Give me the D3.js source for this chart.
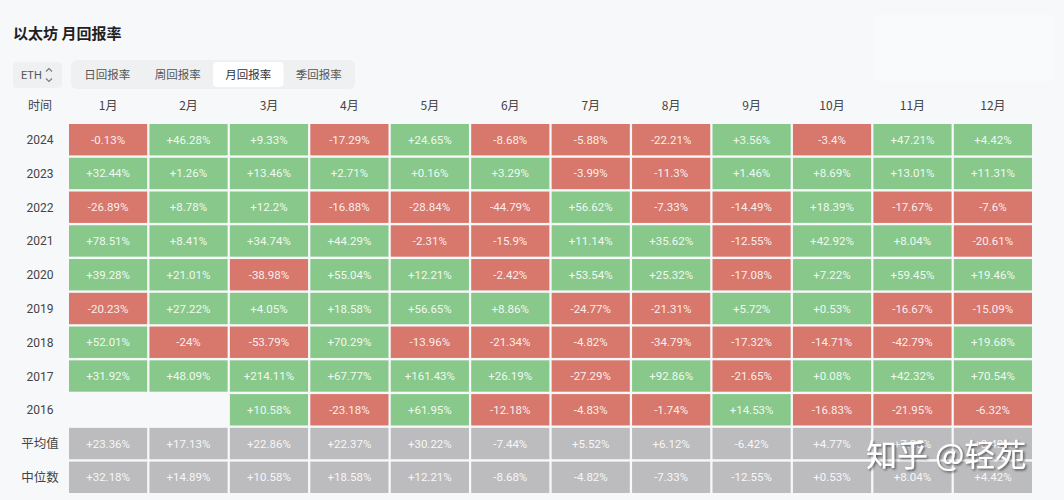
<!DOCTYPE html>
<html><head><meta charset="utf-8">
<script src="https://cdn.jsdelivr.net/npm/d3@7/dist/d3.min.js"></script>
<style>
html,body{margin:0;padding:0;background:#f7f8fa;}
svg{display:block;}
</style></head>
<body>
<svg id="chart" width="1064" height="500"></svg>
<script>
const title = "以太坊 月回报率";
const tabs = ["日回报率", "周回报率", "月回报率", "季回报率"];
const selectedTab = "月回报率";
const asset = "ETH";
const cornerLabel = "时间";
const months = ["1月","2月","3月","4月","5月","6月","7月","8月","9月","10月","11月","12月"];
const years = ["2024","2023","2022","2021","2020","2019","2018","2017","2016"];
const statRows = ["平均值","中位数"];
const r2024 = [-0.13, 46.28, 9.33, -17.29, 24.65, -8.68, -5.88, -22.21, 3.56, -3.4, 47.21, 4.42];
const r2023 = [32.44, 1.26, 13.46, 2.71, 0.16, 3.29, -3.99, -11.3, 1.46, 8.69, 13.01, 11.31];
const r2022 = [-26.89, 8.78, 12.2, -16.88, -28.84, -44.79, 56.62, -7.33, -14.49, 18.39, -17.67, -7.6];
const r2021 = [78.51, 8.41, 34.74, 44.29, -2.31, -15.9, 11.14, 35.62, -12.55, 42.92, 8.04, -20.61];
const r2020 = [39.28, 21.01, -38.98, 55.04, 12.21, -2.42, 53.54, 25.32, -17.08, 7.22, 59.45, 19.46];
const r2019 = [-20.23, 27.22, 4.05, 18.58, 56.65, 8.86, -24.77, -21.31, 5.72, 0.53, -16.67, -15.09];
const r2018 = [52.01, -24, -53.79, 70.29, -13.96, -21.34, -4.82, -34.79, -17.32, -14.71, -42.79, 19.68];
const r2017 = [31.92, 48.09, 214.11, 67.77, 161.43, 26.19, -27.29, 92.86, -21.65, 0.08, 42.32, 70.54];
const r2016 = [null, null, 10.58, -23.18, 61.95, -12.18, -4.83, -1.74, 14.53, -16.83, -21.95, -6.32];
const avgRow = [23.36, 17.13, 22.86, 22.37, 30.22, -7.44, 5.52, 6.12, -6.42, 4.77, 7.88, 8.42];
const medRow = [32.18, 14.89, 10.58, 18.58, 12.21, -8.68, -4.82, -7.33, -12.55, 0.53, 8.04, 4.42];
const watermark = "知乎 @轻苑";

const yearValues = [r2024, r2023, r2022, r2021, r2020, r2019, r2018, r2017, r2016];
const statValues = [avgRow, medRow];
const rowNames = years.concat(statRows);

const svg = d3.select("#chart");
const CJK = "'Noto Sans CJK SC', 'Noto Sans', sans-serif";
const NUM = "Roboto, 'Noto Sans CJK SC', sans-serif";

// faint lighter panel top-right
svg.append("rect").attr("x", 875).attr("y", 15).attr("width", 178).attr("height", 66).attr("fill", "#f9fafb");

// title
svg.append("text").attr("x", 13).attr("y", 39).text(title)
  .attr("font-family", CJK).attr("font-size", 15).attr("font-weight", 700).attr("fill", "#1f1f1f");

// asset selector
svg.append("rect").attr("x", 13).attr("y", 62).attr("width", 49).attr("height", 26).attr("rx", 4).attr("fill", "#eef0f2");
svg.append("text").attr("x", 21).attr("y", 79).text(asset)
  .attr("font-family", NUM).attr("font-size", 11).attr("fill", "#555");
svg.append("path").attr("d", "M46,71.5 L49,68.5 L52,71.5 M46,78.5 L49,81.5 L52,78.5")
  .attr("fill", "none").attr("stroke", "#777").attr("stroke-width", 1.1);

// tabs
const tabX = d3.scaleBand().domain(tabs).range([72, 354]).paddingInner(0.0);
svg.append("rect").attr("x", 71).attr("y", 60).attr("width", 284).attr("height", 29).attr("rx", 6).attr("fill", "#eef0f2");
svg.append("rect").attr("x", tabX(selectedTab)).attr("y", 62).attr("width", tabX.bandwidth()).attr("height", 25).attr("rx", 4).attr("fill", "#ffffff");
svg.selectAll("text.tab").data(tabs).join("text").attr("class", "tab")
  .attr("x", d => tabX(d) + tabX.bandwidth() / 2).attr("y", 79)
  .attr("text-anchor", "middle").attr("font-family", CJK).attr("font-size", 11.5)
  .attr("fill", d => d === selectedTab ? "#333" : "#555").text(d => d);

// scales
const x = d3.scaleBand().domain(months).range([69, 1032]).paddingInner(0.028);
const y = d3.scaleBand().domain(rowNames).range([124, 493]).paddingInner(0.07);

// header
svg.append("text").attr("x", 40).attr("y", 110).attr("text-anchor", "middle").text(cornerLabel)
  .attr("font-family", CJK).attr("font-size", 12).attr("fill", "#444");
svg.selectAll("text.mh").data(months).join("text").attr("class", "mh")
  .attr("x", d => x(d) + x.bandwidth() / 2).attr("y", 110).attr("text-anchor", "middle")
  .attr("font-family", CJK).attr("font-size", 12).attr("fill", "#444").text(d => d);

// row labels
svg.selectAll("text.rl").data(rowNames).join("text").attr("class", "rl")
  .attr("x", 40).attr("y", d => y(d) + y.bandwidth() / 2 + 4.5).attr("text-anchor", "middle")
  .attr("font-family", d => statRows.includes(d) ? CJK : NUM)
  .attr("font-size", d => statRows.includes(d) ? 12.5 : 12).attr("fill", "#444").text(d => d);

// cells
const cells = [];
years.forEach((yr, i) => yearValues[i].forEach((v, j) => { if (v !== null) cells.push({row: yr, m: months[j], v, stat: false}); }));
statRows.forEach((s, i) => statValues[i].forEach((v, j) => cells.push({row: s, m: months[j], v, stat: true})));

const fmt = v => (v >= 0 ? "+" : "") + (+v.toFixed(2)) + "%";
const color = d => d.stat ? "#bcbcbe" : (d.v >= 0 ? "#88c98b" : "#d8776c");

const g = svg.append("g");
g.selectAll("rect.cell").data(cells).join("rect").attr("class", "cell")
  .attr("x", d => x(d.m)).attr("y", d => y(d.row))
  .attr("width", x.bandwidth()).attr("height", y.bandwidth()).attr("fill", color);
g.selectAll("text.cv").data(cells).join("text").attr("class", "cv")
  .attr("x", d => x(d.m) + x.bandwidth() / 2).attr("y", d => y(d.row) + y.bandwidth() / 2 + 4)
  .attr("text-anchor", "middle").attr("font-family", NUM).attr("font-size", 11.5)
  .attr("fill", "#ffffff").attr("fill-opacity", 0.9).text(d => fmt(d.v));

// watermark
const defs = svg.append("defs");
const f = defs.append("filter").attr("id", "sh").attr("x", "-10%").attr("y", "-20%").attr("width", "130%").attr("height", "150%");
f.append("feDropShadow").attr("dx", 1.5).attr("dy", 1.5).attr("stdDeviation", 1.2).attr("flood-color", "#000").attr("flood-opacity", 0.55);
svg.append("text").attr("x", 866).attr("y", 466).text(watermark)
  .attr("font-family", CJK).attr("font-size", 31).attr("fill", "#ffffff").attr("filter", "url(#sh)");
</script>
</body></html>
